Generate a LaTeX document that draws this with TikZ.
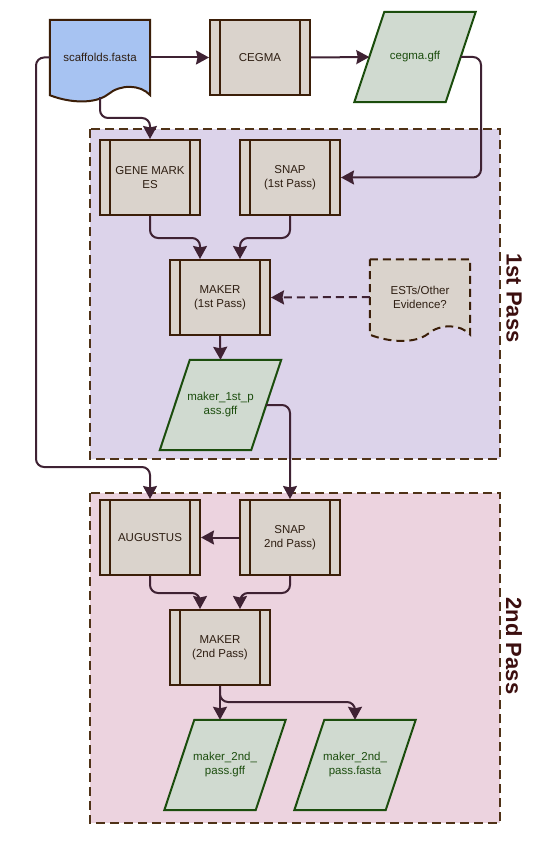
\documentclass[tikz,border=0pt]{standalone}
\usepackage{fontspec}
\setmainfont{Liberation Sans}
\usetikzlibrary{arrows.meta}
\definecolor{boxc}{HTML}{3B1E08}
\definecolor{procf}{HTML}{DAD3CC}
\definecolor{docf}{HTML}{A7C3F2}
\definecolor{paraf}{HTML}{D0DAD0}
\definecolor{parac}{HTML}{1B4D0D}
\definecolor{connc}{HTML}{3F2233}
\definecolor{gonef}{HTML}{DCD3EA}
\definecolor{gtwof}{HTML}{ECD3DF}
\definecolor{gborder}{HTML}{4F3217}
\definecolor{labc}{HTML}{3C0F0F}
\definecolor{txtc}{HTML}{2E1E12}
\pgfdeclarelayer{bg}
\pgfdeclarelayer{mid}
\pgfsetlayers{bg,mid,main}
\tikzset{
  base/.style={font=\fontsize{11.5}{14}\selectfont, align=center, inner sep=0pt},
  proc/.style={base, draw=boxc, fill=procf, line width=2pt, text=txtc,
    minimum width=100pt, minimum height=75pt,
    path picture={\draw[line width=2pt, boxc]
      ([xshift=10pt]path picture bounding box.north west) -- ([xshift=10pt]path picture bounding box.south west)
      ([xshift=-10pt]path picture bounding box.north east) -- ([xshift=-10pt]path picture bounding box.south east);}},
  paranode/.style={base, text=parac, minimum width=91pt, minimum height=90pt},
  parashape/.style={draw=parac, fill=paraf, line width=2pt, line join=miter},
  docnode/.style={base, text=txtc, minimum width=100pt, minimum height=75pt},
  docshape/.style={draw=boxc, fill=docf, line width=2pt},
  estshape/.style={draw=boxc, fill=procf, line width=2pt, dash pattern=on 8pt off 5pt},
  grp/.style={draw=gborder, line width=2pt, dash pattern=on 9pt off 5pt},
  grplabel/.style={font=\fontsize{22}{26}\selectfont\bfseries, text=labc, rotate=-90, inner sep=0pt},
  conn/.style={draw=connc, line width=2pt, -{Stealth[length=13pt 0,width=14pt 0,inset=1.5pt,sharp]}},
  rc/.style={rounded corners=8pt},
}
\newcommand\paralpath[1]{\path[parashape] ([xshift=15pt]#1.north west) -- ([xshift=15pt]#1.north east) -- ([xshift=-15pt]#1.south east) -- ([xshift=-15pt]#1.south west) -- cycle;}
\newcommand\docpath[2]{\path[#2] (#1.north west) -- (#1.north east) -- (#1.south east)
  .. controls ([xshift=-10pt,yshift=11pt]#1.south east) and ([xshift=-30pt,yshift=11pt]#1.south east) .. ([xshift=-42pt,yshift=1pt]#1.south east)
  .. controls ([xshift=-55pt,yshift=-9pt]#1.south east) and ([xshift=-80pt,yshift=-8pt]#1.south east) .. (#1.south west) -- cycle;}
\begin{document}
\begin{tikzpicture}[x=1pt,y=-1pt]
\useasboundingbox (0,0) rectangle (550,842);
\begin{pgfonlayer}{bg}
  \path[grp, fill=gonef] (90,129) rectangle (500,459);
  \path[grp, fill=gtwof] (90,493) rectangle (500,823);
\end{pgfonlayer}
\node[grplabel] (l1) at (514,298) {1st Pass};
\node[grplabel] (l2) at (514,646) {2nd Pass};

% nodes
\node[docnode] (s) at (100,57.5) {scaffolds.fasta};
\node[proc] (cegma) at (260,57.5) {CEGMA};
\node[paranode] (g1) at (415,57) {cegma.gff};
\node[proc] (gm) at (150,177.5) {GENE MARK\\ES};
\node[proc] (snap1) at (290,177.5) {SNAP\\(1st Pass)};
\node[proc] (mk1) at (220,297.5) {MAKER\\(1st Pass)};
\node[docnode] (est) at (420,297) {ESTs/Other\\Evidence?};
\node[paranode] (g2) at (220.5,405) {maker\_1st\_p\\ass.gff};
\node[proc] (aug) at (150,537.5) {AUGUSTUS};
\node[proc] (snap2) at (290,537.5) {SNAP\\2nd Pass)};
\node[proc] (mk2) at (220,647.5) {MAKER\\(2nd Pass)};
\node[paranode] (g3) at (225,765) {maker\_2nd\_\\pass.gff};
\node[paranode] (g4) at (355,765) {maker\_2nd\_\\pass.fasta};

\begin{pgfonlayer}{mid}
  \docpath{s}{docshape}
  \docpath{est}{estshape}
  \paralpath{g1}
  \paralpath{g2}
  \paralpath{g3}
  \paralpath{g4}
\end{pgfonlayer}

% connectors
\draw[conn] (s.east) -- (cegma.west);
\draw[conn] (cegma.east) -- (g1.west);
\draw[conn, rc] (g1.east) -- (481,57) |- (snap1.east);
\draw[conn, rc] ([yshift=-2pt]s.south) -- (100,118) -| (gm.north);
\draw[conn, rc] (s.west) -| (36,467) -| (aug.north);
\draw[conn, rc] (gm.south) -- (150,238) -| ([xshift=-20pt]mk1.north);
\draw[conn, rc] (snap1.south) -- (290,238) -| ([xshift=20pt]mk1.north);
\draw[conn, dash pattern=on 8pt off 5pt] (est.west) -- (mk1.east);
\draw[conn] (mk1.south) -- (g2.north);
\draw[conn, rc] (g2.east) -| (snap2.north);
\draw[conn] (snap2.west) -- (aug.east);
\draw[conn, rc] (aug.south) -- (150,593) -| ([xshift=-20pt]mk2.north);
\draw[conn, rc] (snap2.south) -- (290,593) -| ([xshift=20pt]mk2.north);
\draw[conn] (mk2.south) -- (mk2.south |- g3.north);
\draw[conn, rc] (mk2.south) -- (220,702) -| (g4.north);
\end{tikzpicture}
\end{document}
